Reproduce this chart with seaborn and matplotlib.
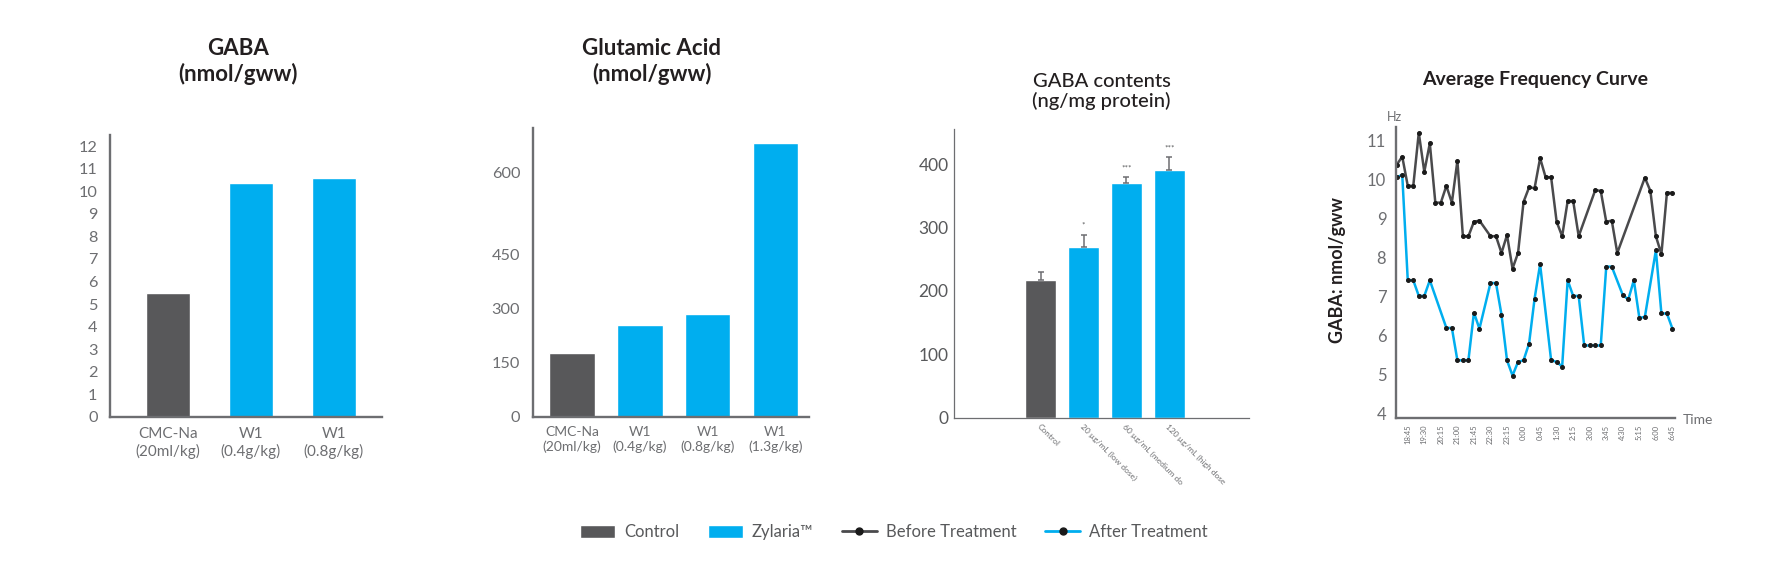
import numpy as np
import pandas as pd
import matplotlib
matplotlib.use("Agg")
import matplotlib.pyplot as plt
from matplotlib.patches import Patch
from matplotlib.lines import Line2D
import seaborn as sns

# --- dati ---

# pannello 1: GABA (nmol/gww)
gaba_groups = ["CMC-Na\n(20ml/kg)", "W1\n(0.4g/kg)", "W1\n(0.8g/kg)"]
gaba_values = [5.5, 10.38, 10.6]

# pannello 2: Glutamic Acid (nmol/gww)
glu_groups = ["CMC-Na\n(20ml/kg)", "W1\n(0.4g/kg)", "W1\n(0.8g/kg)", "W1\n(1.3g/kg)"]
glu_values = [177, 254, 284, 653]

# pannello 3: GABA contents (ng/mg protein)
cont_groups = ["Control", "20 µg/mL (low dose)", "60 µg/mL (medium do", "120 µg/mL (high dose"]
cont_values = [217, 269, 370, 391]
cont_err = [13, 20, 9, 20]
cont_stars = ["", "*", "***", "***"]

# pannello 4: curva di frequenza (passi da 15 minuti dopo le 18:15)
before_slot = list(range(0, 16)) + list(range(17, 34)) + list(range(36, 41)) + list(range(45, 51))
before_values = [10.38, 10.59, 9.84, 9.84, 11.2, 10.2, 10.93, 9.41, 9.41, 9.84, 9.41, 10.48, 8.55, 8.55, 8.92, 8.95,
                 8.55, 8.55, 8.12, 8.58, 7.72, 8.12, 9.43, 9.8, 9.78, 10.55, 10.06, 10.06, 8.92, 8.55, 9.45, 9.45, 8.55,
                 9.73, 9.71, 8.92, 8.95, 8.12,
                 10.05, 9.71, 8.55, 8.09, 9.66, 9.66]
after_slot = (list(range(0, 7)) + list(range(9, 16)) + list(range(17, 27)) + list(range(28, 40))
              + list(range(41, 46)) + list(range(47, 51)))
after_values = [10.06, 10.12, 7.42, 7.42, 7.02, 7.02, 7.42,
                6.2, 6.2, 5.37, 5.37, 5.37, 6.59, 6.18,
                7.35, 7.35, 6.54, 5.37, 4.98, 5.33, 5.37, 5.8, 6.95, 7.83,
                5.37, 5.33, 5.21, 7.42, 7.02, 7.02, 5.75, 5.75, 5.75, 5.75, 7.77, 7.77,
                7.04, 6.93, 7.42, 6.46, 6.48,
                8.19, 6.57, 6.57, 6.18]
time_labels = ["18:45", "19:30", "20:15", "21:00", "21:45", "22:30", "23:15", "0:00", "0:45",
               "1:30", "2:15", "3:00", "3:45", "4:30", "5:15", "6:00", "6:45"]

# colori
GREY_BAR = "#58585a"
BLUE = "#00aeef"
AXIS = "#6d6e71"
TEXT = "#58595b"
DARK_LINE = "#4a4a4c"
TITLE = "#231f20"


def minutes_after_start(t, start="18:15"):
    h, m = map(int, t.split(":"))
    h0, m0 = map(int, start.split(":"))
    return (h * 60 + m - (h0 * 60 + m0)) % 1440


def style_axis(ax, lw, ypad, ysize):
    for side in ["top", "right"]:
        ax.spines[side].set_visible(False)
    for side in ["left", "bottom"]:
        ax.spines[side].set_color(AXIS)
        ax.spines[side].set_linewidth(lw)
    ax.tick_params(axis="both", length=0)
    ax.tick_params(axis="y", pad=ypad, labelsize=ysize, labelcolor=AXIS)
    ax.set_xlabel("")
    ax.set_ylabel("")


sns.set_style("white")
plt.rcParams["font.family"] = ["Lato", "DejaVu Sans"]

W, H = 1792, 585
fig = plt.figure(figsize=(W / 100, H / 100), dpi=100)


def add_ax(x0, y0, x1, y1):
    # rettangolo in pixel (y dall'alto)
    return fig.add_axes([x0 / W, 1 - y1 / H, (x1 - x0) / W, (y1 - y0) / H])


# 1. GABA
ax1 = add_ax(110, 135, 382, 417)
sns.barplot(x=gaba_groups, y=gaba_values, hue=gaba_groups, palette=[GREY_BAR, BLUE, BLUE],
            legend=False, width=0.54, saturation=1, ax=ax1)
ax1.set_ylim(0, 12.49)
ax1.set_xlim(-0.7, 2.58)
ax1.set_yticks(range(0, 13))
style_axis(ax1, 1.7, 9, 11.7)
ax1.tick_params(axis="x", pad=7.5, labelsize=11, labelcolor=AXIS)
fig.text(238 / W, 1 - 61.5 / H, "GABA\n(nmol/gww)", ha="center", va="center",
         fontsize=16, fontweight="bold", color=TITLE, linespacing=1.25)

# 2. Glutamic acid (asse non lineare sopra 450, come nell'originale)
ax2 = add_ax(532.7, 128.3, 809.3, 416.7)
k = 1.514
fwd = lambda v: np.where(v <= 450, v, 450 + (v - 450) * k)
inv = lambda v: np.where(v <= 450, v, 450 + (v - 450) / k)
ax2.set_yscale("function", functions=(fwd, inv))
sns.barplot(x=glu_groups, y=glu_values, hue=glu_groups, palette=[GREY_BAR, BLUE, BLUE, BLUE],
            legend=False, width=0.674, saturation=1, ax=ax2)
ax2.set_ylim(0, 680)
ax2.set_xlim(-0.58, 3.5)
ax2.set_yticks([0, 150, 300, 450, 600])
ax2.set_yticklabels(["0", "150", "300", "450", "600"])
style_axis(ax2, 1.7, 9, 11.7)
ax2.tick_params(axis="x", pad=7, labelsize=10, labelcolor=AXIS)
fig.text(652 / W, 1 - 61.5 / H, "Glutamic Acid\n(nmol/gww)", ha="center", va="center",
         fontsize=16, fontweight="bold", color=TITLE, linespacing=1.25)

# 3. GABA contents
ax3 = add_ax(954, 129.3, 1249.3, 417.7)
sns.barplot(x=cont_groups, y=cont_values, hue=cont_groups, palette=[GREY_BAR, BLUE, BLUE, BLUE],
            legend=False, width=0.73, saturation=1, ax=ax3)
ax3.errorbar(range(len(cont_values)), cont_values, yerr=[np.zeros(len(cont_err)), cont_err],
             fmt="none", ecolor=AXIS, elinewidth=1.1, capsize=2.4, capthick=1.1, zorder=3)
for i, (v, e, s) in enumerate(zip(cont_values, cont_err, cont_stars)):
    if s:
        ax3.annotate(s, (i, v + e), xytext=(0, 4), textcoords="offset points",
                     ha="center", va="bottom", fontsize=6, color=TEXT)
ax3.set_ylim(0, 455)
ax3.set_xlim(-2.03, 4.87)
ax3.set_yticks([0, 100, 200, 300, 400])
style_axis(ax3, 0.9, 4, 12.5)
ax3.tick_params(axis="y", labelcolor=TEXT)
ax3.set_xticks(range(len(cont_groups)))
ax3.set_xticklabels(cont_groups, rotation=-45, ha="left", va="top", rotation_mode="anchor",
                    fontsize=6, color=AXIS)
ax3.tick_params(axis="x", pad=4)
fig.text(1101.7 / W, 1 - 91.3 / H, "GABA contents\n(ng/mg protein)", ha="center", va="center",
         fontsize=14.5, fontweight="medium", color=TITLE, linespacing=1.15)

# 4. Average Frequency Curve
ax4 = add_ax(1396, 127.3, 1675, 417.7)
df_before = pd.DataFrame({"minutes": [s * 15 for s in before_slot], "value": before_values})
df_after = pd.DataFrame({"minutes": [s * 15 for s in after_slot], "value": after_values})
sns.lineplot(data=df_before, x="minutes", y="value", color=DARK_LINE, lw=1.8, marker="o", markersize=2.8,
             markerfacecolor="#1a1a1a", markeredgecolor="#1a1a1a", estimator=None,
             solid_joinstyle="miter", ax=ax4)
sns.lineplot(data=df_after, x="minutes", y="value", color=BLUE, lw=1.8, marker="o", markersize=2.8,
             markerfacecolor="#1a1a1a", markeredgecolor="#1a1a1a", estimator=None,
             solid_joinstyle="miter", ax=ax4)
ax4.set_xlim(-2, 757)
ax4.set_ylim(3.9, 11.34)
ax4.set_yticks(range(4, 12))
style_axis(ax4, 1.7, 7, 12)
ax4.set_xticks([minutes_after_start(t) for t in time_labels])
ax4.set_xticklabels(time_labels, rotation=90, fontsize=5.5, color=AXIS)
ax4.tick_params(axis="x", pad=5)
ax4.set_ylabel("GABA: nmol/gww", fontsize=13, fontweight="bold", color=TITLE)
ax4.yaxis.set_label_coords(-0.18, 0.51)
ax4.text(-0.005, 1.036, "Hz", transform=ax4.transAxes, ha="center", va="center",
         fontsize=9, color=AXIS)
ax4.text(1.029, -0.008, "Time", transform=ax4.transAxes, ha="left", va="center",
         fontsize=10, color=AXIS)
fig.text(1535 / W, 1 - 80 / H, "Average Frequency Curve", ha="center", va="center",
         fontsize=14, fontweight="bold", color=TITLE)

# legenda comune
handles = [
    Patch(facecolor=GREY_BAR),
    Patch(facecolor=BLUE),
    Line2D([0], [0], color=DARK_LINE, lw=2, marker="o", ms=5, mfc="#1a1a1a", mec="#1a1a1a"),
    Line2D([0], [0], color=BLUE, lw=2, marker="o", ms=5, mfc="#1a1a1a", mec="#1a1a1a"),
]
labels = ["Control", "Zylaria™", "Before Treatment", "After Treatment"]
fig.legend(handles, labels, loc="center", bbox_to_anchor=(894 / W, 1 - 532 / H), ncol=4,
           frameon=False, fontsize=12, labelcolor=TEXT, handlelength=2.1, handleheight=0.8,
           handletextpad=0.55, columnspacing=1.7)

fig.savefig("out.png", dpi=100)
